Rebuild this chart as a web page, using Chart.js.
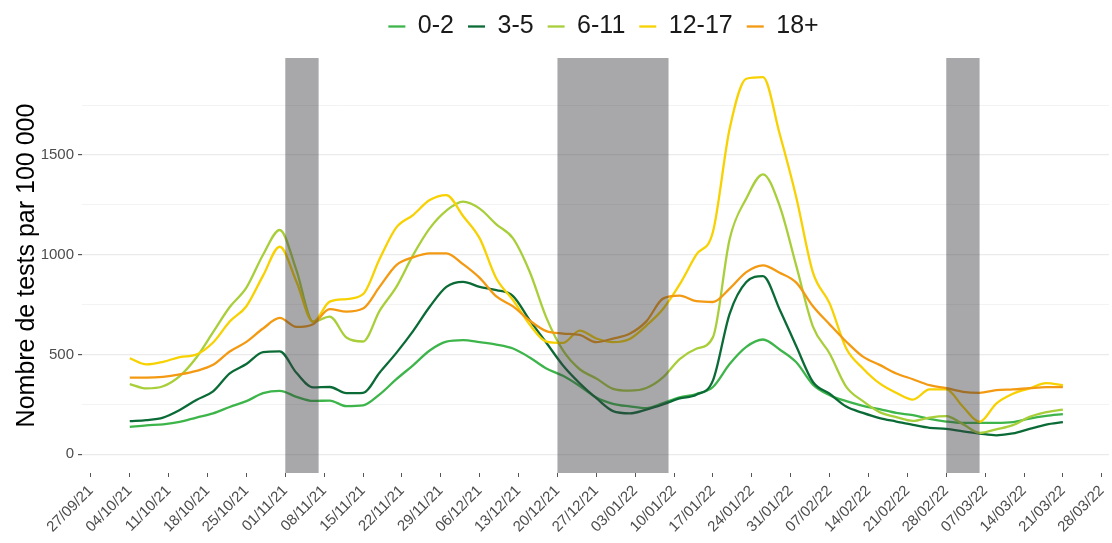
<!DOCTYPE html>
<html lang="fr">
<head>
<meta charset="utf-8">
<title>Nombre de tests par 100 000 - classes d'âge</title>
<script src="https://cdn.jsdelivr.net/npm/chart.js@4/dist/chart.umd.min.js"></script>
<style>
  html, body { margin: 0; padding: 0; background: #fff; }
  #wrap { width: 1112px; height: 543px; }
</style>
</head>
<body>
<div id="wrap"><canvas id="chart" width="1112" height="543"></canvas></div>
<script>
// jours depuis le 27/09/21, un point tous les 3 jours
const sampleDays = [7, 10, 13, 16, 19, 22, 25, 28, 31, 34, 37, 40, 43, 46, 49, 52, 55, 58, 61, 64,
  67, 70, 73, 76, 79, 82, 85, 88, 91, 94, 97, 100, 103, 106, 109, 112, 115, 118, 121, 124,
  127, 130, 133, 136, 139, 142, 145, 148, 151, 154, 157, 160, 163, 166, 169, 172, 175];

// taux de tests par 100 000
const ages0_2 = [137, 145, 150, 162, 184, 205, 237, 266, 306, 318, 288, 267, 269, 241, 245, 300, 376, 446, 520, 564,
  572, 562, 550, 530, 485, 430, 393, 342, 284, 253, 240, 231, 256, 285, 302, 337, 452, 538, 575, 525,
  461, 349, 296, 266, 243, 226, 207, 196, 177, 164, 157, 157, 157, 161, 179, 192, 201];
const ages3_5 = [166, 171, 184, 222, 272, 315, 405, 452, 512, 516, 408, 335, 337, 306, 308, 410, 508, 617, 739, 839,
  864, 839, 823, 793, 672, 559, 445, 356, 281, 216, 205, 224, 250, 280, 298, 370, 704, 863, 893, 726,
  541, 362, 303, 239, 207, 181, 164, 147, 132, 127, 115, 104, 95, 104, 127, 149, 161];
const ages6_11 = [352, 330, 341, 392, 485, 612, 738, 835, 1000, 1124, 923, 664, 690, 585, 565, 720, 839, 998, 1132, 1221,
  1266, 1231, 1152, 1082, 915, 685, 520, 426, 380, 328, 319, 332, 385, 477, 529, 587, 1078, 1282, 1403, 1245,
  944, 640, 505, 338, 266, 211, 186, 167, 184, 191, 151, 107, 125, 146, 187, 211, 224];
const ages12_17 = [481, 450, 463, 487, 500, 560, 665, 742, 895, 1040, 866, 664, 765, 778, 802, 980, 1137, 1199, 1274, 1299,
  1194, 1082, 881, 773, 650, 565, 558, 620, 580, 562, 578, 645, 728, 851, 1000, 1115, 1631, 1882, 1890, 1606,
  1287, 910, 756, 530, 430, 355, 308, 274, 325, 325, 238, 162, 254, 303, 330, 356, 346];
const ages18plus = [384, 384, 388, 400, 418, 448, 515, 563, 630, 683, 638, 652, 727, 715, 730, 840, 948, 987, 1007, 1007,
  953, 884, 791, 741, 670, 617, 605, 598, 562, 580, 604, 666, 780, 795, 767, 763, 830, 913, 947, 910,
  860, 742, 651, 564, 489, 448, 405, 376, 346, 331, 313, 308, 321, 325, 331, 336, 336];

// un repère par semaine
const tickLabels = ["27/09/21", "04/10/21", "11/10/21", "18/10/21", "25/10/21", "01/11/21", "08/11/21",
  "15/11/21", "22/11/21", "29/11/21", "06/12/21", "13/12/21", "20/12/21", "27/12/21", "03/01/22",
  "10/01/22", "17/01/22", "24/01/22", "31/01/22", "07/02/22", "14/02/22", "21/02/22", "28/02/22",
  "07/03/22", "14/03/22", "21/03/22", "28/03/22"];
const yTicks = [0, 250, 500, 750, 1000, 1250, 1500, 1750];

// vacances scolaires (début, fin) en jours depuis le 27/09/21
const holidays = [[35, 41], [84, 104], [154, 160]];

const series = [
  { label: "0-2", values: ages0_2, color: "#3db54a" },
  { label: "3-5", values: ages3_5, color: "#0b6b36" },
  { label: "6-11", values: ages6_11, color: "#a8cf3a" },
  { label: "12-17", values: ages12_17, color: "#f8d100" },
  { label: "18+", values: ages18plus, color: "#f39a12" },
];

// les rectangles gris passent par-dessus les courbes
const holidayPlugin = {
  id: "holidays",
  afterDatasetsDraw(chart) {
    const { ctx, chartArea, scales } = chart;
    ctx.save();
    ctx.fillStyle = "rgba(60, 60, 66, 0.446)";
    holidays.forEach(([start, end]) => {
      const x0 = scales.x.getPixelForValue(start);
      const x1 = scales.x.getPixelForValue(end);
      ctx.fillRect(x0, chartArea.top, x1 - x0, chartArea.bottom - chartArea.top);
    });
    ctx.restore();
  },
};

// la légende de l'original est un peu décalée à droite du centre du panneau
const legendShift = {
  id: "legendShift",
  afterLayout(chart) {
    chart.legend.left += 8;
    chart.legend.right += 8;
  },
};

Chart.defaults.font.family = "'Liberation Sans', Arial, sans-serif";

const datasets = series.map((s, i) => ({
  label: s.label,
  data: sampleDays.map((d, k) => ({ x: d, y: s.values[k] })),
  borderColor: s.color,
  backgroundColor: s.color,
  borderWidth: 2.3,
  pointRadius: 0,
  cubicInterpolationMode: "monotone",
  fill: false,
  order: series.length - i, // 18+ dessiné au-dessus
}));

new Chart(document.getElementById("chart"), {
  type: "line",
  data: { datasets },
  plugins: [holidayPlugin, legendShift],
  options: {
    responsive: false,
    animation: false,
    devicePixelRatio: 1,
    layout: { padding: { top: 0, right: 3, bottom: 0, left: 0 } },
    plugins: {
      tooltip: { enabled: false },
      legend: {
        position: "top",
        align: "center",
        fullSize: false,
        labels: {
          usePointStyle: true,
          pointStyle: "line",
          pointStyleWidth: 17,
          color: "#1a1a1a",
          font: { size: 25 },
          padding: 14,
          sort: (a, b) => a.datasetIndex - b.datasetIndex,
        },
      },
      // petit espace entre la légende et le graphique
      title: { display: true, text: "", weight: 500, padding: 0, font: { size: 9, lineHeight: 1 } },
    },
    scales: {
      x: {
        type: "linear",
        min: -1.6,
        max: 183.3,
        afterBuildTicks: (scale) => {
          scale.ticks = tickLabels.map((_, i) => ({ value: i * 7 }));
        },
        afterFit: (scale) => {
          scale.height = 70;
          // pas de marge réservée pour les étiquettes inclinées
          scale.paddingLeft = 0;
          scale.paddingRight = 0;
        },
        ticks: {
          autoSkip: false,
          minRotation: 45,
          maxRotation: 45,
          color: "#4d4d4d",
          font: { size: 15 },
          padding: 5,
          callback: (v) => tickLabels[Math.round(v / 7)],
        },
        grid: { drawOnChartArea: false, tickLength: 4, tickColor: "#555", lineWidth: 1 },
        border: { display: false },
      },
      y: {
        min: -94,
        max: 1986,
        afterBuildTicks: (scale) => {
          scale.ticks = yTicks.map((v) => ({ value: v }));
        },
        afterFit: (scale) => { scale.width = 82; },
        ticks: {
          color: "#4d4d4d",
          font: { size: 15 },
          padding: 4,
          callback: (v) => (v % 500 === 0 ? String(v) : ""),
        },
        grid: {
          color: (c) => (c.tick && c.tick.value % 500 === 0 ? "#ebebeb" : "#f3f3f3"),
          lineWidth: (c) => (c.tick && c.tick.value % 500 === 0 ? 1.2 : 1),
          tickLength: 4,
          tickColor: (c) => (c.tick && c.tick.value % 500 === 0 ? "#555" : "rgba(0,0,0,0)"),
        },
        border: { display: false },
        title: {
          display: true,
          text: "Nombre de tests par 100 000",
          color: "#000",
          font: { size: 25 },
          padding: { top: 12, bottom: 0 },
        },
      },
    },
  },
});
</script>
</body>
</html>
